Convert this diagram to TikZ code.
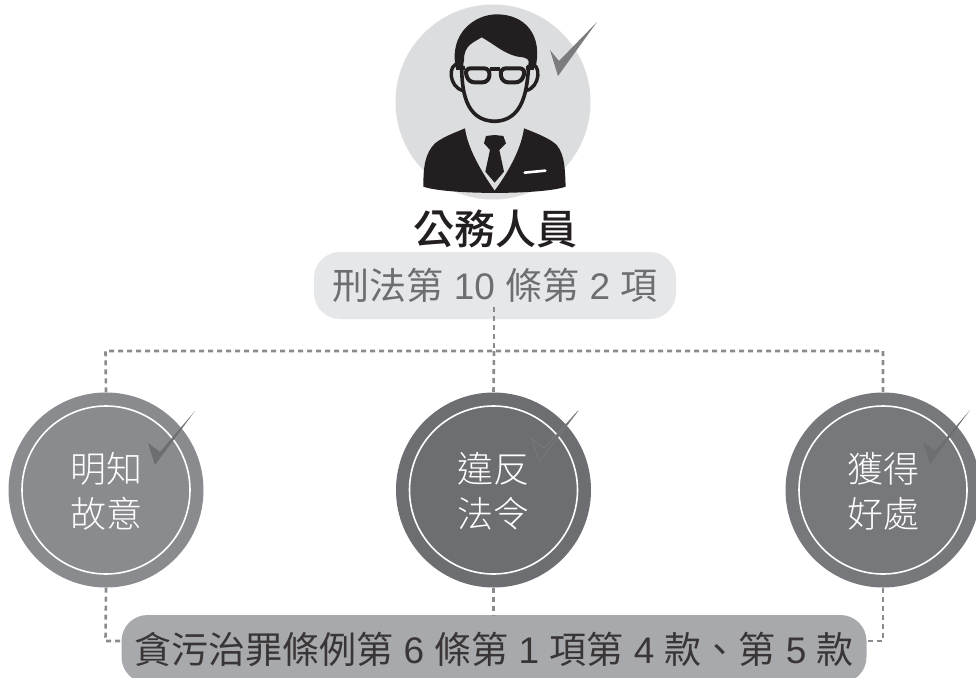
\documentclass[tikz,border=0pt]{standalone}
\usepackage{fontspec}
\setmainfont{Noto Sans CJK TC}
\newfontfamily\light{Noto Sans CJK TC Light}
\newfontfamily\medi{Noto Sans CJK TC Medium}
\newfontfamily\digi{Liberation Sans}
\usetikzlibrary{calc}
\definecolor{topc}{HTML}{DCDDDE}
\definecolor{lc}{HTML}{8A8B8E}
\definecolor{mc}{HTML}{6D6E71}
\definecolor{rc}{HTML}{77787B}
\definecolor{ink}{HTML}{231F20}
\definecolor{txtc}{HTML}{6D6E71}
\definecolor{dashc}{HTML}{8A8B8E}
\definecolor{pilla}{HTML}{E6E7E8}
\definecolor{pillb}{HTML}{A7A9AC}
\tikzset{x=1pt,y=-1pt,
 bigcirc/.style={circle,minimum size=195pt,inner sep=0pt,draw=none},
 ringtxt/.style={align=center,font=\fontsize{36}{45}\selectfont\light,text=white},
 link/.style={draw=dashc,line width=2.6pt,dash pattern=on 5pt off 4pt},
 pill/.style={rectangle,rounded corners=26pt,inner sep=0pt,font=\fontsize{37}{44}\selectfont}}
\newcommand{\tickmark}[2]{\fill[shift={#1},#2] (0,0) -- (7,22) -- (47,-32) -- (12,9) -- cycle;}
\begin{document}
\begin{tikzpicture}
\useasboundingbox (0,0) rectangle (976,677);
\fill[white] (0,0) rectangle (976,677);
% top
\node[circle,minimum size=195pt,inner sep=0pt,fill=topc] (top) at (493,102) {};
\begin{scope}[shift={(380,0)},x=0.3333pt,y=-0.3333pt]
 \fill[ink] (130,560) .. controls (130,500) and (135,460) .. (165,430) .. controls (190,410) and (225,398) .. (255,385) .. controls (262,440) and (300,510) .. (344,572) .. controls (390,510) and (425,440) .. (432,385) .. controls (465,398) and (510,415) .. (530,435) .. controls (555,465) and (555,510) .. (557,560) .. controls (490,585) and (200,585) .. (130,560) -- cycle;
 \fill[ink] (344,405) -- (318,408) -- (312,430) -- (330,450) -- (316,515) -- (344,548) -- (372,515) -- (358,450) -- (378,430) -- (370,408) -- cycle;
 \draw[white,line width=2.6pt,line cap=round] (434,518) -- (496,512);
 \fill[ink] (228,205) .. controls (205,100) and (285,43) .. (350,43) .. controls (435,43) and (490,105) .. (466,205) -- (445,195) .. controls (448,175) and (442,178) .. (430,172) .. controls (380,170) and (340,130) .. (305,112) .. controls (280,128) and (252,135) .. (252,180) -- (248,205) -- cycle;
 \draw[ink,line width=3.6pt] (245,195) .. controls (245,270) and (255,362) .. (344,364) .. controls (430,362) and (442,270) .. (446,195);
 \draw[ink,line width=3.4pt] (236,192) .. controls (203,190) and (205,262) .. (250,272);
 \draw[ink,line width=3.4pt] (452,192) .. controls (484,190) and (482,262) .. (438,272);
 \draw[ink,line width=4pt,rounded corners=6pt] (254,205) -- (330,205) -- (326,247) -- (265,247) -- cycle;
 \draw[ink,line width=4pt,rounded corners=6pt] (360,205) -- (437,205) -- (425,247) -- (366,247) -- cycle;
 \draw[ink,line width=4pt] (228,205) -- (254,205) (330,207) -- (360,207) (437,205) -- (462,205);
\end{scope}
\fill[mc!90] (550,50) -- (558,76) -- (597,22) -- (559,61) -- cycle;
\node[font=\fontsize{41}{50}\selectfont\medi,text=ink] (title) at (495,229) {公務人員};
\node[pill,fill=pilla,minimum width=362pt,minimum height=67pt,text=txtc] (law1) at (495,285.5) {刑法第{\digi\ 10\ }條第{\digi\ 2\ }項};
% circles
\node[bigcirc,fill=lc] (c1) at (106,490) {};
\node[bigcirc,fill=mc] (c2) at (493.5,490) {};
\node[bigcirc,fill=rc] (c3) at (883,490) {};
\foreach \n in {c1,c2,c3} \draw[white,line width=1.6pt] (\n) circle (84);
\node[pill,fill=pillb,minimum width=745pt,minimum height=68pt,text=ink!90] (law2) at (494,649) {貪污治罪條例第{\digi\ 6\ }條第{\digi\ 1\ }項第{\digi\ 4\ }款、第{\digi\ 5\ }款};
\coordinate (s1) at (494,307);
\coordinate (j1) at (105.5,351);
\coordinate (j2) at (494,351);
\coordinate (j3) at (883,351);
\coordinate (k1) at (105.5,641);
\coordinate (k3) at (883,641);
\draw[link] (s1) -- (j2);
\draw[link] (c1.north) -- (j1) -- (j3) -- (c3.north);
\draw[link] (j2) -- (c2.north);
\draw[link] (c1.south) -- (k1) -- (k1 -| law2.west);
\draw[link] (c3.south) -- (k3) -- (k3 -| law2.east);
\draw[link] (c2.south) -- (c2.south |- law2.north);
\tickmark{(148,443)}{mc}
\tickmark{(923,442)}{mc}
\fill[mc,draw=mc!88!white,line width=.5pt] (532,439) -- (539,462) -- (578,411) -- (544,448) -- cycle;
\node[ringtxt] (t1) at (106,491) {明知\\故意};
\node[ringtxt] (t2) at (493,491) {違反\\法令};
\node[ringtxt] (t3) at (883,491) {獲得\\好處};
\end{tikzpicture}
\end{document}
